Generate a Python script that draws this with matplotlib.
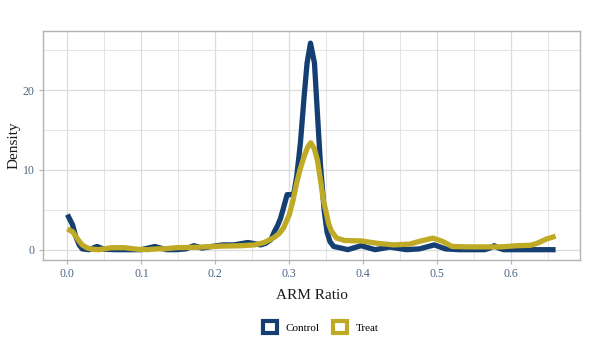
import matplotlib
matplotlib.use("Agg")
import matplotlib.pyplot as plt
from matplotlib.patches import Rectangle
from matplotlib.ticker import MultipleLocator

# Control density curve
ctrl_x = [0.0, 0.007, 0.011, 0.016, 0.02, 0.029, 0.04, 0.05, 0.065, 0.08, 0.1, 0.118, 0.134,
          0.147, 0.16, 0.171, 0.182, 0.195, 0.21, 0.225, 0.244, 0.253, 0.261, 0.268, 0.275,
          0.28, 0.284, 0.288, 0.292, 0.297, 0.303, 0.306, 0.31, 0.315, 0.32, 0.324, 0.3286,
          0.334, 0.338, 0.342, 0.347, 0.351, 0.355, 0.36, 0.37, 0.379, 0.397, 0.416, 0.436,
          0.458, 0.476, 0.496, 0.511, 0.529, 0.564, 0.571, 0.577, 0.583, 0.59, 0.62, 0.66]
ctrl_y = [4.4, 3.1, 1.7, 0.6, 0.1, 0.0, 0.4, 0.05, 0.0, 0.0, 0.0, 0.4, 0.0,
          0.0, 0.1, 0.5, 0.2, 0.4, 0.6, 0.6, 0.9, 0.75, 0.6, 0.8, 1.25,
          2.3, 3.0, 3.9, 5.2, 6.9, 6.9, 7.0, 9.2, 13.4, 19.2, 23.4, 25.9,
          23.4, 17.0, 10.8, 5.0, 2.2, 1.0, 0.4, 0.2, 0.0, 0.5, 0.0, 0.33,
          0.0, 0.1, 0.6, 0.1, 0.0, 0.0, 0.2, 0.5, 0.2, 0.0, 0.0, 0.0]

# Treat density curve
treat_x = [0.0, 0.007, 0.011, 0.016, 0.02, 0.027, 0.035, 0.042, 0.06, 0.077, 0.095, 0.108,
           0.121, 0.13, 0.147, 0.174, 0.209, 0.235, 0.253, 0.266, 0.279, 0.286, 0.292, 0.3,
           0.305, 0.31, 0.315, 0.32, 0.325, 0.329, 0.334, 0.338, 0.342, 0.346, 0.349, 0.353,
           0.357, 0.364, 0.375, 0.397, 0.419, 0.441, 0.463, 0.476, 0.494, 0.507, 0.52, 0.542,
           0.564, 0.586, 0.608, 0.626, 0.635, 0.648, 0.657, 0.66]
treat_y = [2.6, 2.25, 1.7, 1.05, 0.6, 0.2, 0.05, 0.0, 0.25, 0.25, 0.05, 0.0,
           0.1, 0.1, 0.25, 0.3, 0.45, 0.5, 0.6, 0.9, 1.5, 2.0, 2.7, 4.4,
           6.2, 8.4, 10.2, 11.7, 12.9, 13.4, 12.6, 11.2, 8.8, 6.2, 5.0, 3.3,
           2.3, 1.45, 1.15, 1.1, 0.8, 0.6, 0.7, 1.05, 1.45, 1.05, 0.4, 0.35,
           0.35, 0.35, 0.5, 0.55, 0.8, 1.35, 1.6, 1.7]

series_names = ["Control", "Treat"]
series_colors = ["#153f72", "#bfaa25"]

x_label = "ARM Ratio"
y_label = "Density"

plt.rcParams['font.family'] = ['Liberation Serif', 'DejaVu Serif']

fig = plt.figure(figsize=(6, 3.5), dpi=100)
ax = fig.add_axes([0.0717, 0.257, 0.895, 0.654])

ax.plot(ctrl_x, ctrl_y, color=series_colors[0], lw=3.8, solid_capstyle='butt',
        solid_joinstyle='round', zorder=3)
ax.plot(treat_x, treat_y, color=series_colors[1], lw=3.8, solid_capstyle='butt',
        solid_joinstyle='round', zorder=4)

ax.set_xlim(-0.033, 0.693)
ax.set_ylim(-1.3, 27.4)
ax.xaxis.set_minor_locator(MultipleLocator(0.05))
ax.yaxis.set_minor_locator(MultipleLocator(5))
ax.set_xticks([0, 0.1, 0.2, 0.3, 0.4, 0.5, 0.6])
ax.set_xticklabels(["0.0", "0.1", "0.2", "0.3", "0.4", "0.5", "0.6"])
ax.set_yticks([0, 10, 20])
ax.set_yticklabels(["0", "10", "20"])

ax.grid(which='major', color='#dcdcdc', lw=0.9, zorder=0)
ax.grid(which='minor', color='#e4e4e4', lw=0.7, zorder=0)
ax.set_axisbelow(True)
for s in ax.spines.values():
    s.set_color('#b3b3b3')
    s.set_linewidth(1.0)
ax.tick_params(which='major', length=3, color='#b3b3b3', labelcolor='#4a6585',
               labelsize=8.5, pad=3)
ax.tick_params(which='minor', length=0)

ax.set_xlabel(x_label, fontsize=11, color='#1a1a1a', labelpad=6)
ax.set_ylabel(y_label, fontsize=11, color='#1a1a1a', labelpad=2)

handles = [Rectangle((0, 0), 1, 1, facecolor='white', edgecolor=c, lw=3.0)
           for c in series_colors]
fig.legend(handles, series_names, loc='center', bbox_to_anchor=(0.535, 0.065),
           ncol=2, frameon=False, fontsize=8, handlelength=1.25, handleheight=1.25,
           columnspacing=1.2, handletextpad=0.8)

fig.savefig("out.png", dpi=100)
